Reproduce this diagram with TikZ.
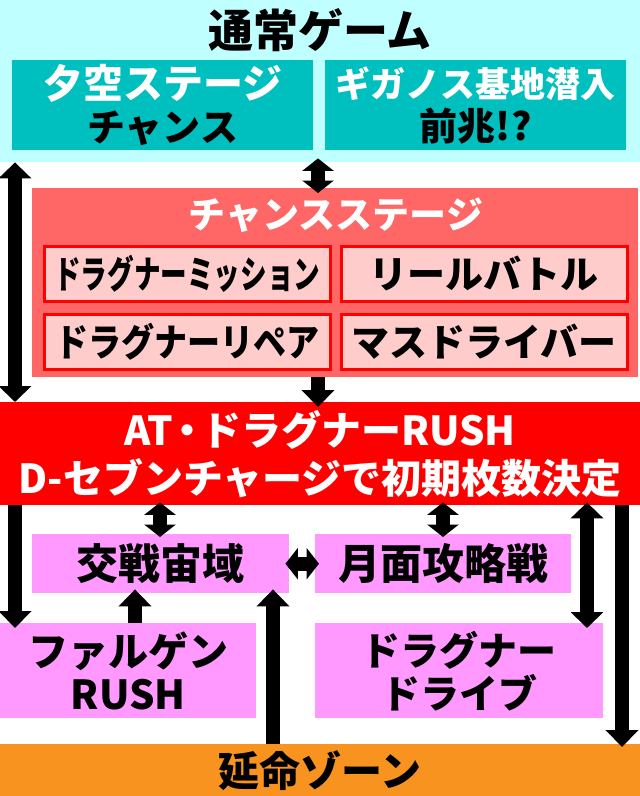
\documentclass[tikz,border=0pt]{standalone}
\usepackage{fontspec}
\setmainfont{Noto Sans CJK JP}[BoldFont={Noto Sans CJK JP Black}]
\usetikzlibrary{arrows.meta}
\definecolor{topcyan}{HTML}{C0FFFF}
\definecolor{teal}{HTML}{00BFBF}
\definecolor{chancered}{HTML}{FF6666}
\definecolor{innerpink}{HTML}{FFCCCC}
\definecolor{atred}{HTML}{FF0000}
\definecolor{battle}{HTML}{FF99FF}
\definecolor{extend}{HTML}{F7931E}
\begin{document}
\begin{tikzpicture}[x=1pt,y=-1pt,
        box/.style={rectangle,anchor=north west,inner sep=0pt,align=center,font=\bfseries\fontsize{40}{43}\selectfont},
        inbox/.style={box,fill=innerpink,draw=atred,line width=2.5pt,minimum width=286pt,minimum height=55pt,font=\bfseries\fontsize{38}{43}\selectfont},
        arr/.style={line width=14pt,-{Triangle[width=32pt,length=17pt]}},
        dbl/.style={line width=14pt,{Triangle[width=32pt,length=16pt]}-{Triangle[width=32pt,length=16pt]}},
        dblshort/.style={line width=14pt,{Triangle[width=31pt,length=12.5pt]}-{Triangle[width=31pt,length=12.5pt]}}]
        \useasboundingbox (0,0) rectangle (640,796);

        % normal game
        \node[box,fill=topcyan,minimum width=640pt,minimum height=162pt] (normal) at (0,0) {};
        \node[font=\bfseries\fontsize{45}{45}\selectfont,inner sep=0pt] (normaltitle) at (320,30) {通常ゲーム};
        \node[box,fill=teal,minimum width=301pt,minimum height=90pt,text=white,font=\bfseries\fontsize{40}{43}\selectfont] (yuzora) at (12,60)
            {夕空ステージ\\\textcolor{black}{\fontsize{38}{43}\selectfont チャンス}};
        \node[box,fill=teal,minimum width=301pt,minimum height=90pt,text=white,font=\bfseries\fontsize{35}{43}\selectfont] (gigan) at (325,60)
            {ギガノス基地潜入\\\textcolor{black}{\fontsize{38}{43}\selectfont 前兆!?}};

        % chance stage
        \node[box,fill=chancered,minimum width=606pt,minimum height=189pt] (chance) at (32,188) {};
        \node[font=\bfseries\fontsize{37}{37}\selectfont,text=white,inner sep=0pt] (chancetitle) at (336,215) {チャンスステージ};
        \node[inbox] (mission) at (43,245) {\scalebox{0.7}[1]{ドラグナーミッション}};
        \node[inbox] (reel) at (340,245) {リールバトル};
        \node[inbox] (repair) at (43,313) {\scalebox{0.87}[1]{ドラグナーリペア}};
        \node[inbox] (mass) at (340,313) {マスドライバー};

        % AT
        \node[box,fill=atred,minimum width=640pt,minimum height=103pt,text=white,font=\bfseries\fontsize{40}{48}\selectfont] (at) at (0,402)
            {AT\kern-6pt・\kern-6pt ドラグナーRUSH\\D-セブンチャージで初期枚数決定};

        % battles
        \node[box,fill=battle,minimum width=257pt,minimum height=59pt,font=\bfseries\fontsize{42}{43}\selectfont] (kosen) at (32,534) {交戦宙域};
        \node[box,fill=battle,minimum width=256pt,minimum height=59pt,font=\bfseries\fontsize{42}{43}\selectfont] (getsumen) at (315,534) {月面攻略戦};
        \node[box,fill=battle,minimum width=256pt,minimum height=95pt] (falgen) at (0,623) {ファルゲン\\RUSH};
        \node[box,fill=battle,minimum width=288pt,minimum height=95pt,font=\bfseries\fontsize{39}{43}\selectfont] (drive) at (315,623) {ドラグナー\\ドライブ};
        \node[box,fill=extend,minimum width=640pt,minimum height=52pt,font=\bfseries\fontsize{41}{43}\selectfont] (enmei) at (0,744) {延命ゾーン};

        % arrows
        \draw[dbl] ([xshift=15pt]normal.south west) -- ([xshift=15pt]at.north west);
        \draw[dblshort,shorten <=-4pt,shorten >=-5pt] ([xshift=318pt]normal.south west) -- ([xshift=286pt]chance.north west);
        \draw[arr,shorten >=-5pt] ([xshift=286pt]chance.south west) -- ([xshift=318pt]at.north west);
        \draw[dblshort,shorten <=-3pt,shorten >=-3pt] ([xshift=160pt]at.south west) -- ([xshift=128pt]kosen.north west);
        \draw[dblshort,shorten <=-3pt,shorten >=-3pt] ([xshift=443pt]at.south west) -- ([xshift=128pt]getsumen.north west);
        \draw[dblshort,shorten <=-4pt,shorten >=-4pt] (kosen.east) -- (getsumen.west);
        \draw[arr,shorten >=-5pt] ([xshift=15pt]at.south west) -- ([xshift=15pt]falgen.north west);
        \draw[arr,shorten >=-4pt] ([xshift=135pt]falgen.north west) -- ([xshift=103pt]kosen.south west);
        \draw[arr,shorten >=-4pt] ([xshift=273pt]enmei.north west) -- ([xshift=241pt]kosen.south west);
        \draw[dbl,shorten <=-3pt,shorten >=-5pt] ([xshift=587pt]at.south west) -- ([xshift=272pt]drive.north west);
        \draw[arr,shorten >=-3pt] ([xshift=622pt]at.south west) -- ([xshift=622pt]enmei.north west);
    \end{tikzpicture}
\end{document}
